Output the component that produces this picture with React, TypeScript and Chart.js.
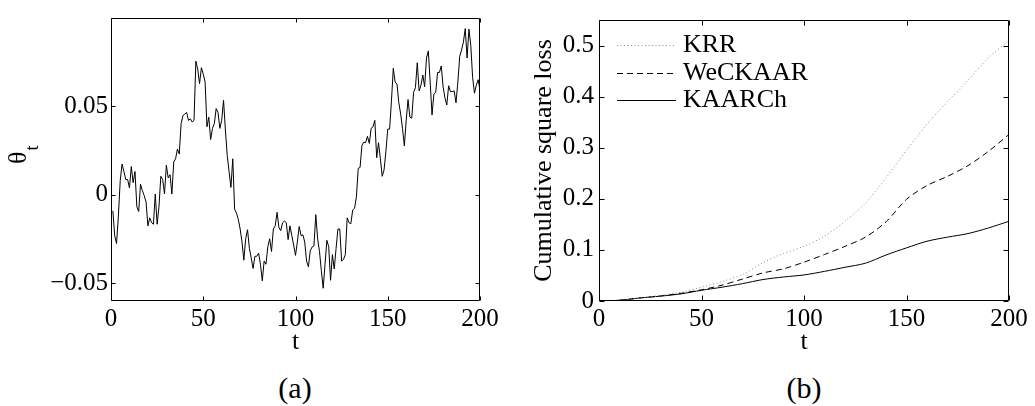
import React, { useEffect, useRef } from 'react';
import { Chart, registerables } from 'chart.js';

Chart.register(...registerables);

const FONT = "'Liberation Serif', 'Times New Roman', Times, serif";

// ---- panel (a): theta_t over t = 1..200 ----
const thetaValues = [
  -0.009, -0.023, -0.0275, -0.012, 0.008, 0.0174, 0.0132, 0.0087, 0.0087, 0.004,
  0.016, 0.0069, 0.0132, -0.0067, -0.0094, 0.006, 0.0024, -0.0004, -0.004, -0.0175,
  -0.013, -0.0157, -0.0166, 0.0005, -0.0166, -0.0067, 0.0105, 0.0087, 0.0005, 0.0168,
  0.0096, 0.0114, 0.0005, 0.0186, 0.0204, 0.0259, 0.0231, 0.0403, 0.0448, 0.0457,
  0.0466, 0.0421, 0.043, 0.0412, 0.0421, 0.0756, 0.071, 0.0629, 0.0719, 0.0683,
  0.0638, 0.0385, 0.0439, 0.0313, 0.0376, 0.0403, 0.0488, 0.0466, 0.0376, 0.0421,
  0.0535, 0.0367, 0.0222, 0.0132, 0.0042, 0.0204, -0.0081, -0.0103, -0.0139, -0.0193,
  -0.0266, -0.0369, -0.0248, -0.0197, -0.0302, -0.0356, -0.0416, -0.0347, -0.0347, -0.0329,
  -0.0392, -0.0486, -0.0374, -0.0392, -0.0293, -0.0248, -0.032, -0.0193, -0.0175, -0.0099,
  -0.0184, -0.0202, -0.0157, -0.0148, -0.0157, -0.0253, -0.0175, -0.023, -0.0284, -0.0342,
  -0.0266, -0.0179, -0.023, -0.0226, -0.0266, -0.0374, -0.0407, -0.0316, -0.0295, -0.0289,
  -0.0112, -0.0248, -0.032, -0.0428, -0.0528, -0.0392, -0.0257, -0.0293, -0.0483, -0.0338,
  -0.0419, -0.0302, -0.0193, -0.0193, -0.0374, -0.0365, -0.0338, -0.013, -0.0157, -0.0163,
  -0.0085, -0.0076, -0.0013, 0.015, 0.0155, 0.028, 0.0298, 0.0295, 0.0331, 0.0291,
  0.0376, 0.0385, 0.0421, 0.021, 0.0295, 0.0204, 0.0105, 0.0141, 0.0245, 0.0372,
  0.0372, 0.053, 0.0716, 0.0638, 0.0626, 0.0521, 0.0457, 0.0376, 0.0277, 0.0421,
  0.0539, 0.0439, 0.0434, 0.058, 0.0606, 0.0747, 0.0588, 0.062, 0.0678, 0.0611,
  0.0774, 0.0814, 0.0638, 0.0452, 0.0571, 0.058, 0.0692, 0.0692, 0.0729, 0.0611,
  0.0548, 0.0508, 0.0617, 0.0584, 0.0584, 0.0588, 0.0521, 0.0638, 0.0783, 0.0819,
  0.0864, 0.094, 0.0774, 0.0937, 0.0846, 0.0665, 0.0575, 0.062, 0.0651, 0.0593,
];
const thetaT = thetaValues.map((_, i) => i + 1);

const xTicks = [0, 50, 100, 150, 200];
const xTickLabels = ['0', '50', '100', '150', '200'];
const yTicksA = [-0.05, 0, 0.05];
const yTickLabelsA = ['\u22120.05', '0', '0.05'];

// ---- panel (b): cumulative square loss ----
const lossT = [0, 10, 20, 30, 40, 50, 60, 70, 80, 90, 100, 110, 120, 130, 140, 150, 160, 170, 180, 190, 200];
const krrLoss = [0, 0.0015, 0.006, 0.011, 0.017, 0.027, 0.038, 0.052, 0.075, 0.093, 0.107, 0.127, 0.156, 0.192, 0.241, 0.295, 0.346, 0.39, 0.432, 0.476, 0.51];
const weckaarLoss = [0, 0.0015, 0.006, 0.01, 0.015, 0.022, 0.031, 0.043, 0.055, 0.063, 0.076, 0.091, 0.107, 0.125, 0.155, 0.199, 0.226, 0.244, 0.265, 0.293, 0.326];
const kaarchLoss = [0, 0.0015, 0.006, 0.0095, 0.014, 0.021, 0.027, 0.034, 0.042, 0.047, 0.051, 0.058, 0.066, 0.074, 0.09, 0.104, 0.117, 0.125, 0.132, 0.143, 0.156];
const seriesNames = ['KRR', 'WeCKAAR', 'KAARCh'];
const yTicksB = [0, 0.1, 0.2, 0.3, 0.4, 0.5];
const yTickLabelsB = ['0', '0.1', '0.2', '0.3', '0.4', '0.5'];

const tickFont = { family: FONT, size: 25 };
const titleFont = { family: FONT, size: 26 };

function labelFor(values: number[], labels: string[]) {
  return (v: any) => {
    const idx = values.findIndex((x) => Math.abs(x - Number(v)) < 1e-9);
    return idx >= 0 ? labels[idx] : '';
  };
}

function boxTicks(len: number) {
  return {
    id: 'boxTicks',
    afterDatasetsDraw(chart: any) {
      const { ctx, chartArea: a, scales } = chart;
      const L = Math.round(a.left) + 0.5;
      const R = Math.round(a.right) - 0.5;
      const T = Math.round(a.top) + 0.5;
      const B = Math.round(a.bottom) - 0.5;
      ctx.save();
      ctx.strokeStyle = '#000';
      ctx.lineWidth = 1;
      ctx.setLineDash([]);
      ctx.beginPath();
      ctx.rect(L, T, R - L, B - T);
      scales.x.ticks.forEach((t: any) => {
        const px = Math.round(scales.x.getPixelForValue(t.value)) + 0.5;
        ctx.moveTo(px, B);
        ctx.lineTo(px, B - len);
        ctx.moveTo(px, T);
        ctx.lineTo(px, T + len);
      });
      scales.y.ticks.forEach((t: any) => {
        const py = Math.round(scales.y.getPixelForValue(t.value)) + 0.5;
        ctx.moveTo(L, py);
        ctx.lineTo(L + len, py);
        ctx.moveTo(R, py);
        ctx.lineTo(R - len, py);
      });
      ctx.stroke();
      ctx.restore();
    },
  };
}

const thetaTitle = {
  id: 'thetaTitle',
  afterDraw(chart: any) {
    const { ctx } = chart;
    ctx.save();
    ctx.fillStyle = '#000';
    ctx.translate(26, 164);
    ctx.rotate(-Math.PI / 2);
    ctx.textBaseline = 'alphabetic';
    ctx.textAlign = 'left';
    ctx.font = `26px ${FONT}`;
    ctx.fillText('\u03B8', 0, 0);
    const w = ctx.measureText('\u03B8').width;
    ctx.font = `18px ${FONT}`;
    ctx.fillText('t', w + 1, 12);
    ctx.restore();
  },
};

const legendPlugin = {
  id: 'lineLegend',
  afterDraw(chart: any) {
    const { ctx, chartArea: a } = chart;
    ctx.save();
    ctx.font = `26px ${FONT}`;
    ctx.textBaseline = 'middle';
    ctx.textAlign = 'left';
    chart.data.datasets.forEach((ds: any, i: number) => {
      const y = Math.round(a.top + 25 + i * 27.5) + 0.5;
      ctx.strokeStyle = ds.borderColor;
      ctx.lineWidth = ds.borderWidth;
      ctx.setLineDash(ds.borderDash || []);
      ctx.beginPath();
      ctx.moveTo(a.left + 18, y);
      ctx.lineTo(a.left + 77, y);
      ctx.stroke();
      ctx.setLineDash([]);
      ctx.fillStyle = '#000';
      ctx.fillText(ds.label, a.left + 84, y);
    });
    ctx.restore();
  },
};

function xScale() {
  return {
    type: 'linear',
    min: 0,
    max: 200,
    afterBuildTicks: (s: any) => {
      s.ticks = xTicks.map((v) => ({ value: v }));
    },
    afterFit: (s: any) => {
      s.height = 59;
    },
    grid: { display: false, drawTicks: false },
    border: { display: false },
    ticks: {
      padding: 3,
      color: '#000',
      font: tickFont,
      maxRotation: 0,
      autoSkip: false,
      callback: labelFor(xTicks, xTickLabels),
    },
    title: { display: true, text: 't', color: '#000', font: titleFont, padding: { top: 0, bottom: 2 } },
  };
}

function PanelA() {
  const ref = useRef<HTMLCanvasElement>(null);
  useEffect(() => {
    const chart = new Chart(ref.current as HTMLCanvasElement, {
      type: 'line',
      data: {
        datasets: [
          {
            label: 'theta',
            data: thetaT.map((t, i) => ({ x: t, y: thetaValues[i] })),
            borderColor: '#000',
            borderWidth: 1,
            pointRadius: 0,
            tension: 0,
            fill: false,
          },
        ],
      },
      options: {
        animation: false,
        responsive: false,
        devicePixelRatio: 1,
        layout: { padding: { left: 0, top: 5, right: 40, bottom: 0 }, autoPadding: false },
        plugins: { legend: { display: false }, tooltip: { enabled: false } },
        scales: {
          x: xScale() as any,
          y: {
            type: 'linear',
            min: -0.06,
            max: 0.1,
            afterBuildTicks: (s: any) => {
              s.ticks = yTicksA.map((v) => ({ value: v }));
            },
            afterFit: (s: any) => {
              s.width = 111;
            },
            grid: { display: false, drawTicks: false },
            border: { display: false },
            ticks: { padding: 3, color: '#000', font: tickFont, callback: labelFor(yTicksA, yTickLabelsA) },
          },
        },
      },
      plugins: [boxTicks(4), thetaTitle],
    });
    return () => chart.destroy();
  }, []);
  return <canvas ref={ref} width={520} height={360} style={{ position: 'absolute', left: 0, top: 0 }} />;
}

function PanelB() {
  const ref = useRef<HTMLCanvasElement>(null);
  useEffect(() => {
    const mk = (t: number[], v: number[]) => t.map((x, i) => ({ x, y: v[i] }));
    const chart = new Chart(ref.current as HTMLCanvasElement, {
      type: 'line',
      data: {
        datasets: [
          {
            label: seriesNames[0],
            data: mk(lossT, krrLoss),
            borderColor: '#8a8a8a',
            borderWidth: 1,
            borderDash: [1, 2.5],
            pointRadius: 0,
            tension: 0.3,
            fill: false,
          },
          {
            label: seriesNames[1],
            data: mk(lossT, weckaarLoss),
            borderColor: '#000',
            borderWidth: 1,
            borderDash: [6, 4],
            pointRadius: 0,
            tension: 0.3,
            fill: false,
          },
          {
            label: seriesNames[2],
            data: mk(lossT, kaarchLoss),
            borderColor: '#000',
            borderWidth: 1,
            pointRadius: 0,
            tension: 0.3,
            fill: false,
          },
        ],
      },
      options: {
        animation: false,
        responsive: false,
        devicePixelRatio: 1,
        layout: { padding: { left: 0, top: 5, right: 26, bottom: 0 }, autoPadding: false },
        plugins: { legend: { display: false }, tooltip: { enabled: false } },
        scales: {
          x: xScale() as any,
          y: {
            type: 'linear',
            min: 0,
            max: 0.55,
            afterBuildTicks: (s: any) => {
              s.ticks = yTicksB.map((v) => ({ value: v }));
            },
            afterFit: (s: any) => {
              s.width = 79;
            },
            grid: { display: false, drawTicks: false },
            border: { display: false },
            ticks: { padding: 5, color: '#000', font: tickFont, callback: labelFor(yTicksB, yTickLabelsB) },
            title: {
              display: true,
              text: 'Cumulative square loss',
              color: '#000',
              font: titleFont,
              padding: { top: 9, bottom: 0 },
            },
          },
        },
      },
      plugins: [boxTicks(5), legendPlugin],
    });
    return () => chart.destroy();
  }, []);
  return <canvas ref={ref} width={515} height={360} style={{ position: 'absolute', left: 520, top: 0 }} />;
}

const captionStyle: React.CSSProperties = {
  position: 'absolute',
  top: 373,
  width: 100,
  textAlign: 'center',
  fontFamily: FONT,
  fontSize: 30,
  lineHeight: '30px',
  color: '#000',
};

export default function App() {
  return (
    <div style={{ position: 'absolute', left: 0, top: 0, width: 1035, height: 406, background: '#fff', overflow: 'hidden' }}>
      <PanelA />
      <PanelB />
      <div style={{ ...captionStyle, left: 245 }}>(a)</div>
      <div style={{ ...captionStyle, left: 754 }}>(b)</div>
    </div>
  );
}
